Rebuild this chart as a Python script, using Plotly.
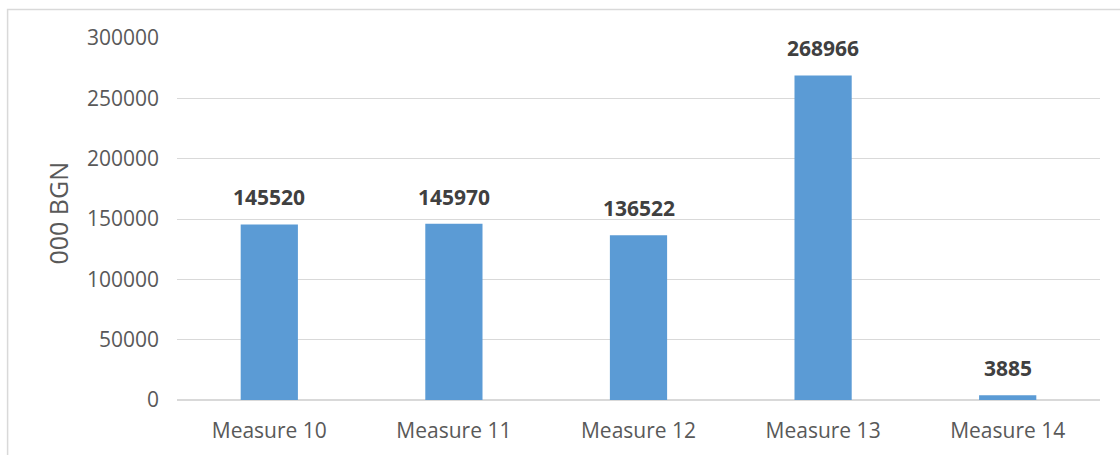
import plotly.graph_objects as go

categories = ["Measure 10", "Measure 11", "Measure 12", "Measure 13", "Measure 14"]
values = [145520, 145970, 136522, 268966, 3885]
y_ticks = [0, 50000, 100000, 150000, 200000, 250000, 300000]

W, H = 1120, 455
L, R, T, B = 176.5, 20, 38, 55
plot_w = W - L - R
plot_h = H - T - B
FONT = "Open Sans"

fig = go.Figure()
fig.add_trace(go.Bar(
    x=categories, y=values,
    marker=dict(color="#5B9BD5", line=dict(width=0)),
    hoverinfo="x+y",
))

# value labels above each bar
for c, v in zip(categories, values):
    fig.add_annotation(
        x=c, y=v, text=f"<b>{v}</b>", showarrow=False,
        yanchor="bottom", yshift=11,
        font=dict(family=FONT, size=21, color="#404040"),
    )

# axis title
fig.add_annotation(
    xref="paper", yref="paper", x=(57 - L) / plot_w, y=0.5 + 6 / plot_h,
    text="000 BGN", textangle=-90, showarrow=False,
    xanchor="center", yanchor="middle",
    font=dict(family=FONT, size=25, color="#595959"),
)

# chart border
fig.add_shape(
    type="rect", xref="paper", yref="paper",
    x0=(7 - L) / plot_w, x1=(W + 5 - L) / plot_w,
    y0=-(H + 5 - (H - B)) / plot_h, y1=1 + (T - 9.5) / plot_h,
    line=dict(color="#D9D9D9", width=1.5), layer="below",
)

fig.update_layout(
    width=W, height=H,
    margin=dict(l=L, r=R, t=T, b=B),
    paper_bgcolor="white", plot_bgcolor="white",
    bargap=0.69, showlegend=False,
    font=dict(family=FONT, size=21, color="#595959"),
    xaxis=dict(
        showgrid=False, showline=False, zeroline=False,
        ticks="", ticklabelstandoff=16,
        tickfont=dict(family=FONT, size=21, color="#595959"),
    ),
    yaxis=dict(
        range=[0, 300000], tickvals=y_ticks,
        ticktext=[str(t) for t in y_ticks],
        showgrid=True, gridcolor="#D9D9D9", gridwidth=1,
        zeroline=True, zerolinecolor="#D9D9D9", zerolinewidth=1.5,
        showline=False, ticks="", ticklabelstandoff=17,
        tickfont=dict(family=FONT, size=21, color="#595959"),
    ),
)

fig.write_html("out.html")
